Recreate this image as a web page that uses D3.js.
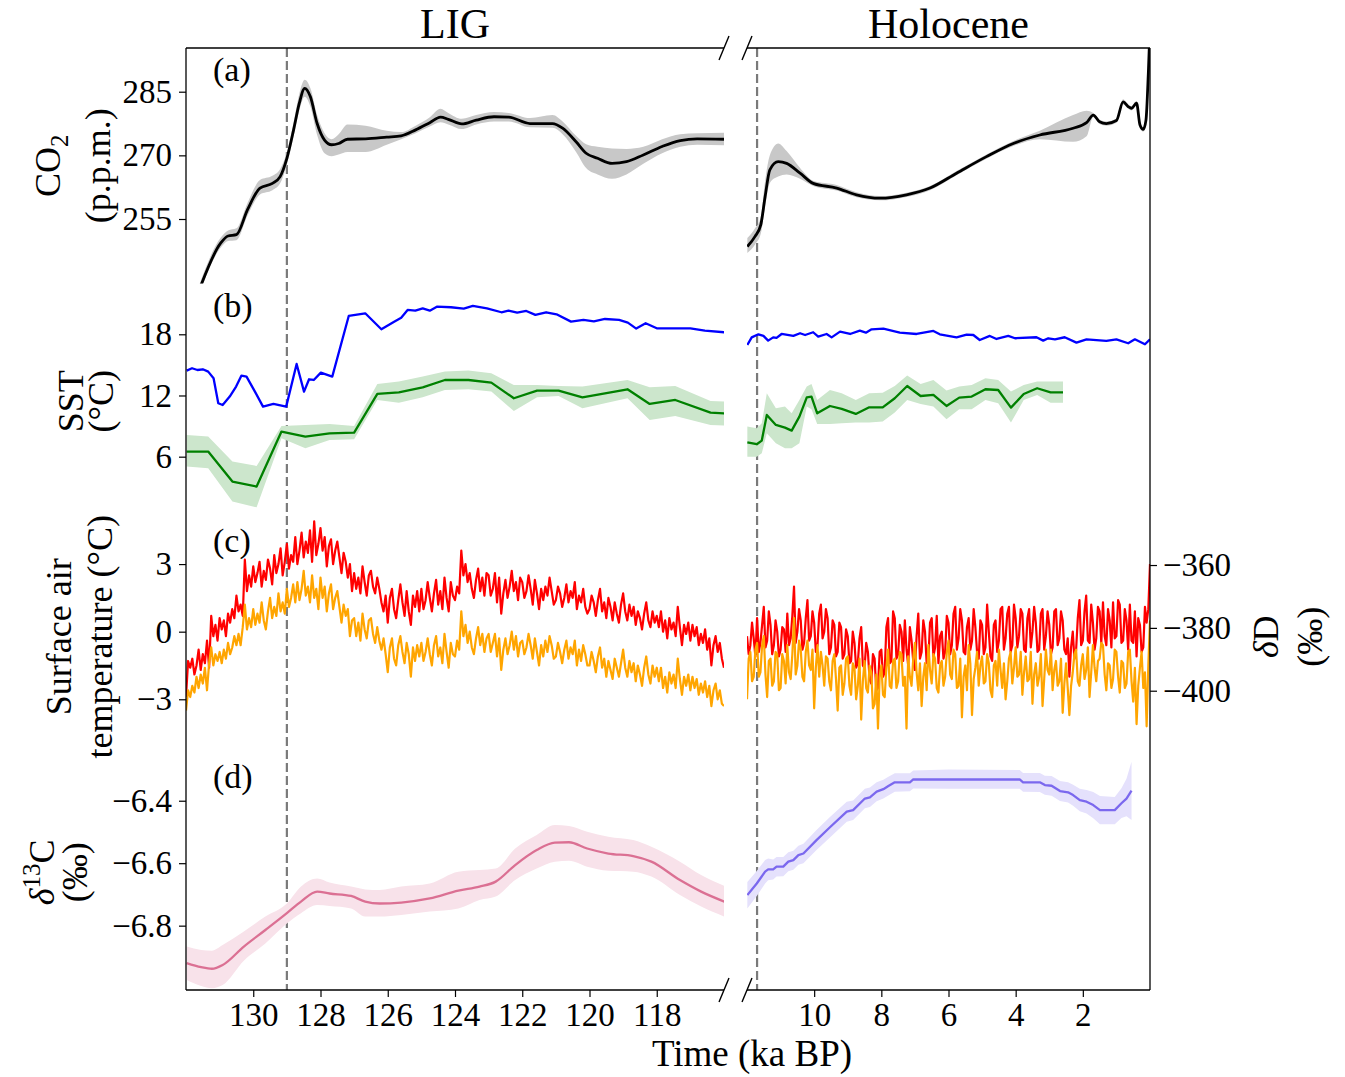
<!DOCTYPE html>
<html>
<head>
<meta charset="utf-8">
<script src="https://cdn.jsdelivr.net/npm/d3@7"></script>
<style>
  body { margin: 0; background: #fff; }
  svg text { font-family: "Liberation Serif", "DejaVu Serif", serif; fill: #000; }
</style>
</head>
<body>
<svg id="chart" width="1345" height="1077"></svg>
<script>
// ---- (a) CO2, ka BP / ppm, lo-hi = grey envelope ----
const co2LigAge = [131.62, 130.97, 130.75, 130.5, 130.17, 129.8, 129.43, 129.2, 129.0, 128.8, 128.63, 128.47, 128.3, 128.1, 127.88, 127.67, 127.46, 127.2, 126.66, 126.03, 125.6, 125.17, 124.75, 124.43, 124.2, 123.8, 123.37, 122.84, 122.4, 121.77, 121.1, 120.8, 120.4, 120.1, 119.76, 119.33, 118.9, 118.4, 117.84, 117.3, 116.8, 116.0];
const co2Lig = [238.0, 249.3, 251.0, 251.3, 257.2, 262.3, 263.4, 265.0, 269.3, 276.0, 282.3, 285.8, 283.8, 277.5, 273.6, 272.5, 272.8, 273.8, 273.9, 274.3, 274.6, 276.0, 277.7, 279.0, 278.5, 277.4, 278.3, 279.1, 279.0, 277.5, 277.5, 276.4, 273.2, 270.5, 269.3, 268.1, 268.5, 270.1, 272.1, 273.5, 273.9, 273.8];
const co2LigLo = [237.0, 248.2, 249.8, 250.0, 255.8, 260.8, 261.8, 263.4, 267.8, 274.5, 280.5, 283.8, 281.5, 274.8, 270.5, 269.8, 270.2, 270.8, 270.8, 272.5, 273.8, 275.2, 276.8, 277.8, 277.3, 276.2, 277.3, 278.0, 278.0, 276.6, 276.5, 275.0, 270.8, 267.0, 265.5, 264.5, 265.5, 268.0, 270.5, 272.0, 272.5, 272.4];
const co2LigHi = [239.2, 250.6, 252.3, 252.8, 258.8, 264.2, 265.2, 266.8, 270.8, 277.8, 284.5, 287.8, 285.8, 279.5, 275.2, 273.8, 275.0, 277.3, 277.0, 275.8, 275.5, 277.0, 279.0, 281.0, 280.0, 278.6, 279.5, 280.2, 280.0, 278.8, 279.5, 278.0, 274.6, 272.6, 272.0, 271.6, 271.5, 272.0, 273.8, 275.0, 275.2, 275.3];

const co2HolAge = [11.99, 11.76, 11.59, 11.46, 11.32, 11.07, 10.82, 10.42, 10.03, 9.33, 8.74, 8.04, 7.25, 6.55, 5.76, 4.87, 4.07, 3.28, 2.29, 1.89, 1.69, 1.5, 1.3, 1.0, 0.8, 0.65, 0.55, 0.4, 0.3, 0.2, 0.12, 0.05, 0.0];
const co2Hol = [248.5, 250.9, 253.6, 260.3, 266.6, 268.5, 268.1, 265.8, 263.4, 262.3, 260.7, 259.9, 260.7, 262.3, 265.8, 269.7, 272.8, 274.8, 276.4, 277.7, 279.5, 277.9, 277.5, 278.2, 282.6, 281.5, 281.1, 282.3, 277.2, 276.1, 278.3, 289.3, 300.0];
const co2HolLo = [247.0, 249.0, 251.5, 258.0, 263.5, 265.0, 265.5, 264.5, 262.8, 261.7, 260.1, 259.4, 260.2, 261.8, 265.3, 269.2, 272.2, 273.8, 273.2, 274.5, 279.0, 277.4, 277.0, 277.7, 282.0, 281.0, 280.6, 281.8, 276.7, 275.6, 277.8, 288.8, 299.5];
const co2HolHi = [250.5, 252.8, 255.5, 264.0, 270.0, 272.8, 271.0, 267.0, 264.0, 263.0, 261.3, 260.4, 261.2, 262.8, 266.3, 270.2, 273.4, 275.8, 279.5, 280.5, 280.0, 278.4, 278.0, 278.7, 283.2, 282.0, 281.6, 282.8, 277.7, 276.6, 278.8, 289.8, 300.5];

// ---- (b) SST, degC ----
const sstBlueLigAge = [131.98, 131.82, 131.66, 131.5, 131.34, 131.18, 131.04, 130.91, 130.7, 130.51, 130.35, 130.2, 129.95, 129.71, 129.4, 129.02, 128.71, 128.49, 128.34, 128.2, 127.99, 127.65, 127.16, 126.67, 126.19, 125.81, 125.6, 125.41, 125.18, 124.96, 124.75, 124.54, 124.12, 123.74, 123.47, 123.05, 122.62, 122.41, 122.15, 121.88, 121.61, 121.29, 120.98, 120.55, 120.18, 119.87, 119.54, 119.12, 118.86, 118.61, 118.33, 118.0, 117.0, 116.57, 115.99];
const sstBlueLig = [14.44, 14.67, 14.5, 14.57, 14.34, 13.69, 11.24, 11.07, 11.89, 12.87, 13.95, 13.85, 12.38, 10.91, 11.17, 10.91, 15.09, 12.38, 13.59, 13.52, 14.24, 13.85, 19.8, 20.06, 18.49, 19.24, 19.63, 20.39, 20.32, 20.55, 20.32, 20.71, 20.65, 20.52, 20.78, 20.55, 20.16, 20.32, 20.12, 20.29, 19.9, 20.16, 19.96, 19.24, 19.41, 19.27, 19.5, 19.41, 19.14, 18.56, 19.08, 18.59, 18.59, 18.36, 18.2];

const sstGreenLigAge = [131.98, 131.34, 130.62, 129.9, 129.16, 128.45, 127.73, 127.0, 126.31, 125.67, 124.96, 124.3, 123.6, 122.92, 122.25, 121.56, 120.92, 120.21, 118.87, 118.21, 117.45, 116.4, 115.99];
const sstGreenLig = [6.5, 6.5, 3.56, 3.07, 8.46, 7.97, 8.29, 8.36, 12.15, 12.31, 12.8, 13.52, 13.52, 13.26, 11.73, 12.48, 12.48, 11.82, 12.61, 11.17, 11.56, 10.32, 10.25];
const sstGreenLigLo = [5.03, 4.86, 1.6, 1.04, 7.8, 6.82, 7.64, 7.71, 11.56, 11.3, 11.82, 12.54, 12.61, 12.38, 10.48, 11.82, 11.95, 10.75, 11.73, 9.6, 9.99, 9.11, 9.05];
const sstGreenLigHi = [8.13, 7.97, 5.52, 5.09, 9.01, 9.11, 9.21, 9.01, 13.13, 13.36, 13.85, 14.34, 14.44, 14.18, 13.03, 13.03, 12.93, 12.87, 13.52, 12.8, 12.93, 11.46, 11.4];

const sstBlueHolAge = [11.99, 11.86, 11.66, 11.51, 11.37, 11.22, 11.12, 10.97, 10.62, 10.42, 10.27, 10.03, 9.88, 9.63, 9.48, 9.23, 8.93, 8.64, 8.46, 8.29, 7.94, 7.45, 6.95, 6.45, 6.26, 5.76, 5.46, 5.26, 5.07, 4.77, 4.57, 4.22, 4.02, 3.38, 3.18, 3.03, 2.83, 2.54, 2.19, 1.89, 1.3, 1.0, 0.65, 0.45, 0.15, 0.0];
const sstBlueHol = [16.95, 17.7, 18.0, 17.84, 17.38, 17.7, 17.64, 18.03, 17.84, 18.1, 17.93, 18.2, 17.77, 18.03, 17.7, 18.26, 18.03, 18.36, 18.16, 18.49, 18.56, 18.16, 18.03, 18.33, 18.0, 17.7, 17.97, 17.93, 17.44, 17.84, 17.54, 17.84, 17.61, 17.71, 17.38, 17.61, 17.51, 17.71, 17.18, 17.51, 17.35, 17.51, 17.12, 17.51, 17.02, 17.51];

const sstGreenHolAge = [11.99, 11.71, 11.56, 11.41, 11.14, 10.87, 10.67, 10.44, 10.22, 10.08, 9.91, 9.53, 9.18, 8.76, 8.36, 7.96, 7.6, 7.23, 6.83, 6.45, 6.06, 5.68, 5.31, 4.9, 4.52, 4.14, 3.76, 3.36, 2.96, 2.59];
const sstGreenHol = [7.41, 7.22, 7.58, 10.09, 9.11, 8.85, 8.56, 9.93, 11.82, 11.89, 10.25, 10.97, 10.68, 10.19, 10.84, 10.84, 11.73, 12.93, 11.95, 12.05, 10.97, 11.79, 11.89, 12.61, 12.54, 10.81, 12.15, 12.71, 12.31, 12.31];
const sstGreenHolLo = [6.0, 6.0, 6.33, 8.29, 7.31, 6.82, 6.82, 7.31, 10.91, 10.65, 9.21, 9.21, 9.27, 9.34, 9.34, 9.44, 10.32, 11.56, 11.17, 10.91, 9.67, 10.65, 10.65, 11.56, 11.24, 9.34, 11.56, 12.05, 11.3, 11.3];
const sstGreenHolHi = [8.95, 8.78, 9.27, 12.22, 10.75, 10.91, 10.25, 11.56, 12.87, 13.13, 11.56, 12.54, 12.22, 11.56, 12.22, 12.28, 12.93, 13.95, 13.13, 13.52, 12.48, 12.87, 13.03, 13.69, 13.52, 12.38, 13.03, 13.36, 13.36, 13.36];

// ---- (c) surface air temperature, degC; one row = 1 ka ----
// LIG: 132 -> 116 ka, every 0.0625 ka
const satLigStart = 132, satLigEnd = 116;
const satLigRed = [
  -2.9, -1.3, -1.6, -1.2, -1.9, -1.5, -0.8, -1.7, -1.0, -1.4, -0.4, -1.6, 0.7, -0.2, 0.3, -0.4,
  0.6, 0.1, 0.5, -0.2, 0.8, 0.4, 1.0, 0.6, 1.6, 0.9, 1.2, 0.7, 3.2, 1.8, 2.5, 2.0,
  2.9, 2.2, 2.6, 3.1, 2.0, 2.7, 2.3, 3.2, 2.8, 2.1, 3.4, 2.6, 3.0, 3.7, 2.5, 3.1,
  3.9, 2.8, 3.4, 3.1, 4.2, 3.0, 3.6, 4.4, 3.3, 4.0, 3.5, 4.5, 3.1, 4.9, 3.4, 3.9,
  4.6, 3.6, 4.2, 2.9, 3.8, 4.1, 3.0, 3.6, 4.0, 3.3, 2.6, 3.5, 3.1, 2.4, 3.0, 1.8,
  2.6, 1.9, 2.4, 1.7, 2.9, 2.2, 1.6, 2.5, 2.7, 2.0, 1.7, 2.4, 1.9, 1.3, 0.9, 1.6,
  0.4, 1.5, 1.9, 1.0, 0.6, 1.4, 2.1, 1.3, 0.7, 1.8, 0.9, 0.3, 1.6, 1.1, 1.8, 0.9,
  1.9, 1.0, 1.4, 2.2, 1.5, 0.9, 1.7, 2.3, 1.2, 1.8, 1.0, 2.4, 1.5, 0.9, 2.2, 1.6,
  1.4, 2.0, 1.7, 3.6, 2.5, 3.0, 2.2, 2.6, 1.9, 1.5, 2.3, 2.8, 1.8, 2.4, 1.6, 2.6,
  2.5, 1.6, 1.9, 2.6, 1.3, 2.4, 0.8, 1.7, 2.3, 1.5, 2.0, 2.7, 1.8, 2.2, 1.4, 2.4,
  2.2, 1.5, 1.8, 2.5, 1.9, 1.2, 2.3, 1.7, 1.0, 1.9, 1.4, 2.0, 1.6, 2.4, 1.8, 1.2,
  1.4, 2.0, 1.7, 1.1, 1.5, 2.1, 1.3, 1.8, 1.5, 2.2, 1.0, 1.6, 1.3, 1.9, 1.1, 0.8,
  1.0, 1.6, 1.3, 0.7, 1.4, 1.9, 0.9, 1.3, 0.6, 1.5, 1.1, 0.5, 1.3, 0.8, 0.4, 1.2,
  1.7, 0.9, 0.5, 1.2, 0.7, 1.1, 0.3, 0.9, 0.6, 0.1, 0.8, 1.3, 0.5, 0.2, 0.9, 0.4,
  0.7, 0.2, 0.9, 0.0, 0.5, -0.3, 0.6, 0.1, 0.4, -0.2, 1.1, 0.2, -0.6, 0.3, -0.1, 0.4,
  -0.4, 0.3, -0.2, 0.2, -0.6, -0.1, -0.5, 0.1, -0.8, -0.3, -1.5, -0.6, -0.2, -0.9, -0.5, -1.2,
  -1.6];
const satLigOrange = [
  -3.5, -2.6, -2.9, -2.4, -2.7, -2.0, -2.5, -1.9, -2.3, -1.6, -2.6, -1.4, -0.7, -1.5, -1.0, -1.3,
  -0.9, -1.4, -0.8, -1.2, -0.5, -1.0, -0.7, -0.2, -0.6, -0.1, -0.6, 0.2, 1.2, 0.1, 0.6, 0.2,
  1.0, 0.3, 0.8, 0.4, 1.3, 0.5, 0.1, 0.9, 1.5, 0.6, 1.1, 0.7, 1.7, 0.9, 1.3, 0.8,
  1.9, 1.1, 1.5, 2.1, 1.3, 2.2, 1.4, 1.9, 2.7, 1.6, 2.0, 1.3, 2.5, 1.5, 1.9, 1.0,
  2.4, 1.5, 2.0, 0.9, 1.7, 2.1, 1.0, 1.5, 1.8, 1.1, 0.4, 1.2, 0.7, 1.0, -0.2, 0.5,
  0.6, -0.2, 0.4, -0.4, 0.8, 0.1, -0.3, 0.5, 0.6, -0.1, -0.5, 0.2, -0.4, -0.8, -0.3, -1.0,
  -1.8, -0.7, -0.3, -1.2, -1.5, -0.6, -0.2, -0.9, -1.4, -0.5, -1.0, -2.0, -0.7, -1.3, -0.6, -1.1,
  -0.5, -1.3, -0.9, -0.3, -1.0, -1.5, -0.6, -0.2, -1.1, -0.7, -1.4, -0.1, -0.9, -1.6, -0.5, -1.0,
  -1.1, -0.4, -0.8, 0.9, -0.2, 0.3, -0.5, 0.0, -0.7, -1.0, -0.3, 0.2, -0.6, -0.1, -0.9, -0.3,
  -0.1, -0.9, -0.5, -0.1, -1.1, -0.3, -1.7, -0.8, -0.3, -1.0, -0.6, 0.0, -0.8, -0.2, -1.1, -0.5,
  -0.4, -1.0, -0.7, -0.1, -0.6, -1.2, -0.3, -0.9, -1.5, -0.6, -1.1, -0.4, -0.9, -0.2, -0.6, -1.2,
  -1.1, -0.5, -0.9, -1.4, -0.8, -0.4, -1.2, -0.7, -1.0, -0.4, -1.5, -0.8, -1.3, -0.6, -1.0, -1.5,
  -1.5, -0.9, -1.3, -1.8, -1.1, -0.7, -1.6, -1.2, -2.0, -1.3, -1.7, -2.1, -1.2, -1.6, -2.0, -1.4,
  -0.8, -1.6, -2.0, -1.3, -1.8, -1.4, -2.2, -1.5, -1.9, -2.4, -1.6, -1.1, -1.9, -2.3, -1.5, -2.0,
  -1.6, -2.2, -1.6, -2.5, -2.0, -2.7, -1.8, -2.3, -1.9, -2.5, -1.2, -2.1, -2.8, -2.0, -2.4, -1.9,
  -2.6, -2.0, -2.5, -2.1, -2.8, -2.3, -2.7, -2.2, -2.9, -2.4, -3.3, -2.6, -2.3, -3.0, -2.6, -3.2,
  -3.3];

// Holocene: 12 -> 0 ka, every 0.05 ka
const satHolStart = 12, satHolEnd = 0;
const satHolRed = [
  -0.2, -1.0, -0.6, 0.4, -0.3, -1.1, 0.6, -0.9, -0.5, 0.3, 1.1, -0.7, -0.4, 0.9, 0.3, -1.0, -0.6, 0.5, 0.0, -1.1,
  -0.8, 0.2, 0.1, -0.9, 0.8, -0.6, -0.3, 0.7, 2.0, -0.5, 0.0, 1.0, 0.5, -0.8, -0.5, 0.6, 1.4, -0.4, -0.2, 0.9,
  0.4, -0.9, -0.6, 0.8, 1.2, -0.3, 0.0, 1.0, 0.6, -1.0, -0.7, 0.5, 0.3, -1.1, -0.9, 0.4, 0.2, -1.2, -1.0, 0.1,
  -0.2, -1.4, -1.3, 0.0, -0.5, -1.6, -1.4, -0.3, 0.2, -1.5, -1.6, -0.5, -0.9, -2.1, -2.3, -1.0, -1.2, -2.6, -2.5, -0.9,
  -0.8, -2.0, -1.8, 0.2, 0.6, -1.4, -1.3, 0.9, 0.6, -1.2, -1.0, 0.3, 0.0, -1.3, 0.5, -0.8, -1.5, 0.2, -0.4, -1.3,
  -1.7, -0.2, 0.8, -1.2, -0.9, 0.5, 0.0, -1.4, -1.2, 0.4, 0.6, -1.1, -0.7, 0.7, -1.4, -0.2, 0.0, -1.2, -0.9, 0.7,
  0.4, -1.0, -0.6, 0.8, 1.1, -0.8, -0.3, 1.0, 0.5, -0.9, -1.0, 0.2, 0.6, -0.8, -0.4, 1.0, 0.2, -0.9, -1.2, 0.5,
  0.3, -1.0, -0.7, 1.2, 0.0, -1.1, -1.3, 0.3, 0.5, -0.9, -0.4, 1.0, 1.1, -0.8, -0.3, 0.8, 1.1, -0.9, -0.6, 1.2,
  0.6, -0.7, -0.2, 1.0, 0.8, -0.8, -0.9, 0.6, 1.0, -0.7, 0.0, 1.1, 0.4, -0.9, -0.8, 0.8, 1.0, -0.8, -0.2, 0.9,
  0.3, -1.0, -0.7, 0.9, 1.0, -0.6, -0.3, 0.9, 0.5, -0.8, -1.0, -0.3, -2.0, -0.7, 0.0, -1.2, -0.8, 0.6, 1.4, -0.6,
  -0.4, 0.9, 1.6, -0.4, -0.5, 1.2, 0.4, -0.8, -0.3, 1.1, 0.9, -0.5, 1.3, -0.2, -0.6, 1.0, 0.5, -0.7, 1.3, -0.3,
  -0.2, 1.4, 1.2, -0.5, -0.4, 1.0, 0.5, -0.8, 1.2, -0.4, -0.5, 0.9, -1.1, 0.6, 0.3, -0.9, -0.7, 1.1, 0.4, 1.0,
  3.0];
const satHolOrange = [
  -3.0, -1.2, -0.9, -2.2, -2.0, -0.8, -0.5, -2.0, -1.8, -0.6, -0.2, -1.9, -2.9, -1.3, -1.2, -2.4, -2.2, -0.9, -1.0, -2.6,
  -2.5, -1.0, -1.3, -2.3, -0.6, -1.8, -2.1, -1.0, 0.6, -1.9, -1.5, -0.4, -0.8, -2.0, -2.2, -0.9, -0.4, -1.5, -1.7, -0.8,
  -3.4, -1.6, -0.6, -2.0, -0.9, -1.5, -2.4, -1.1, -1.2, -2.2, -2.6, -1.3, -1.0, -2.1, -3.5, -1.6, -1.5, -2.8, -2.3, -1.2,
  -1.1, -2.4, -2.8, -1.4, -1.6, -3.0, -2.4, -1.2, -3.9, -2.2, -1.3, -2.5, -2.7, -1.5, -1.8, -3.4, -3.2, -1.9, -4.3, -2.0,
  -1.5, -2.8, -2.9, -1.6, -0.8, -2.4, -2.5, -1.3, -1.2, -2.5, -2.2, -0.9, -1.0, -2.4, -2.0, -4.3, -1.1, -2.0, -2.4, -1.2,
  -0.5, -1.8, -2.6, -1.4, -3.3, -2.0, -1.4, -2.6, -0.6, -1.7, -2.3, -1.0, -1.2, -2.5, -2.7, -1.5, -1.3, -2.4, -2.0, -0.9,
  -0.4, -1.9, -2.1, -0.8, -1.0, -2.5, -2.4, -1.2, -3.8, -2.0, -1.5, -2.6, -0.6, -1.4, -3.7, -2.1, -1.6, -0.9, -2.4, -1.5,
  -1.1, -2.3, -2.2, -1.0, -1.4, -2.6, -2.9, -1.5, -1.3, -2.4, -0.8, -1.7, -2.5, -1.4, -3.0, -2.2, -1.2, -0.9, -2.3, -1.6,
  -0.7, -2.0, -1.9, -0.9, -2.8, -1.8, -1.1, -2.2, -2.1, -0.9, -3.2, -1.9, -1.4, -2.4, -2.0, -1.0, -3.3, -2.1, -0.8, -1.7,
  -1.9, -0.8, -2.6, -1.7, -1.3, -2.4, -2.2, -1.2, -3.6, -2.3, -1.4, -2.5, -3.7, -2.4, -1.8, -1.0, -0.8, -2.2, -2.4, -1.5,
  -1.0, -2.1, -1.7, -0.7, -2.9, -1.8, -0.6, -1.6, -2.2, -1.3, -1.2, -0.5, -0.6, -1.9, -2.6, -1.4, -1.5, -2.5, -2.1, -0.8,
  -0.9, -2.0, -2.7, -1.3, -1.4, -2.5, -2.3, -0.9, -0.8, -2.2, -3.1, -1.6, -4.1, -2.4, -1.6, -0.9, -2.5, -1.8, -4.2, -1.5,
  0.5];

// ---- (d) d13C, permil ----
const c13LigAge = [131.98, 131.55, 131.23, 130.91, 130.28, 129.64, 129.0, 128.58, 128.1, 127.73, 127.09, 126.67, 126.24, 125.6, 124.75, 123.9, 123.27, 122.79, 122.21, 121.57, 121.03, 120.61, 120.07, 119.44, 118.7, 118.16, 117.31, 116.68, 115.99];
const c13Lig = [-6.92, -6.933, -6.938, -6.926, -6.867, -6.814, -6.76, -6.723, -6.691, -6.697, -6.705, -6.723, -6.729, -6.726, -6.713, -6.688, -6.675, -6.659, -6.606, -6.558, -6.534, -6.533, -6.553, -6.569, -6.577, -6.595, -6.654, -6.691, -6.723];
const c13LigLo = [-6.974, -6.993, -7.0, -6.99, -6.912, -6.857, -6.793, -6.76, -6.734, -6.737, -6.745, -6.771, -6.771, -6.766, -6.755, -6.745, -6.718, -6.707, -6.654, -6.617, -6.595, -6.592, -6.611, -6.624, -6.627, -6.643, -6.702, -6.739, -6.771];
const c13LigHi = [-6.867, -6.878, -6.88, -6.862, -6.819, -6.771, -6.729, -6.675, -6.649, -6.662, -6.675, -6.684, -6.686, -6.675, -6.665, -6.627, -6.622, -6.617, -6.553, -6.51, -6.478, -6.481, -6.499, -6.515, -6.526, -6.547, -6.595, -6.638, -6.673];

const c13HolAge = [11.99, 11.71, 11.46, 11.37, 11.22, 11.12, 10.92, 10.77, 10.62, 10.47, 10.32, 9.93, 9.53, 9.03, 8.84, 8.49, 8.34, 8.14, 7.94, 7.79, 7.6, 7.15, 7.05, 6.0, 3.88, 3.78, 3.28, 3.13, 2.93, 2.68, 2.44, 2.29, 2.09, 1.89, 1.69, 1.49, 1.05, 0.85, 0.7, 0.55];
const c13Hol = [-6.702, -6.665, -6.627, -6.62, -6.62, -6.611, -6.611, -6.595, -6.59, -6.574, -6.569, -6.526, -6.485, -6.435, -6.43, -6.393, -6.389, -6.371, -6.363, -6.353, -6.341, -6.341, -6.332, -6.332, -6.332, -6.341, -6.341, -6.35, -6.352, -6.369, -6.373, -6.382, -6.398, -6.403, -6.414, -6.43, -6.43, -6.408, -6.393, -6.368];
const c13HolLo = [-6.745, -6.705, -6.665, -6.655, -6.652, -6.643, -6.642, -6.626, -6.621, -6.605, -6.6, -6.558, -6.518, -6.467, -6.462, -6.424, -6.42, -6.402, -6.393, -6.383, -6.371, -6.37, -6.361, -6.362, -6.362, -6.371, -6.372, -6.381, -6.384, -6.401, -6.406, -6.416, -6.434, -6.441, -6.456, -6.475, -6.475, -6.455, -6.45, -6.462];
const c13HolHi = [-6.66, -6.625, -6.59, -6.585, -6.588, -6.58, -6.58, -6.565, -6.56, -6.544, -6.538, -6.494, -6.452, -6.403, -6.399, -6.362, -6.358, -6.341, -6.333, -6.323, -6.312, -6.312, -6.303, -6.3, -6.302, -6.311, -6.311, -6.32, -6.321, -6.337, -6.341, -6.349, -6.362, -6.366, -6.372, -6.385, -6.388, -6.36, -6.33, -6.275];

// ---- axes ----
const ligTicks = [130, 128, 126, 124, 122, 120, 118];
const holTicks = [10, 8, 6, 4, 2];
const co2Ticks = [285, 270, 255];
const sstTicks = [18, 12, 6];
const satTicks = [3, 0, -3];
const dDTicks = [-360, -380, -400];
const c13Ticks = [-6.4, -6.6, -6.8];
const ligOnset = 129.0, holOnset = 11.7;

// ---- layout ----
const svg = d3.select('#chart');
const leftRange = [186, 724], rightRange = [747, 1150];
const rowTop = [48, 283.5, 519, 754.5];
const rowBottom = [283.5, 519, 754.5, 990];

const xLig = d3.scaleLinear().domain([132, 116]).range(leftRange);
const xHol = d3.scaleLinear().domain([12, 0]).range(rightRange);
const yCo2 = d3.scaleLinear().domain([239.8, 295.3]).range([rowBottom[0], rowTop[0]]);
const ySst = d3.scaleLinear().domain([-0.11, 22.98]).range([rowBottom[1], rowTop[1]]);
const ySat = d3.scaleLinear().domain([-5.45, 5.0]).range([rowBottom[2], rowTop[2]]);
const yDD = d3.scaleLinear().domain([-420.3, -345.35]).range([rowBottom[2], rowTop[2]]);
const yC13 = d3.scaleLinear().domain([-7.006, -6.252]).range([rowBottom[3], rowTop[3]]);

const defs = svg.append('defs');
function panel(id, xs, row) {
    const [x0, x1] = xs.range();
    defs.append('clipPath').attr('id', id)
        .append('rect').attr('x', x0).attr('y', rowTop[row])
        .attr('width', x1 - x0).attr('height', rowBottom[row] - rowTop[row]);
    return svg.append('g').attr('clip-path', `url(#${id})`);
}

function drawBand(g, xs, ys, ages, lo, hi, fill, curve) {
    const area = d3.area().curve(curve)
        .x(i => xs(ages[i])).y0(i => ys(lo[i])).y1(i => ys(hi[i]));
    g.append('path').attr('d', area(d3.range(ages.length))).attr('fill', fill);
}
function drawLine(g, xs, ys, ages, vals, color, width, curve) {
    const line = d3.line().curve(curve)
        .x(i => xs(ages[i])).y(i => ys(vals[i]));
    g.append('path').attr('d', line(d3.range(ages.length)))
        .attr('fill', 'none').attr('stroke', color).attr('stroke-width', width)
        .attr('stroke-linejoin', 'round');
}
// evenly sampled record: age of each sample between start and end
const sampleAges = (vals, start, end) =>
    vals.map((_, i) => start + (end - start) * i / (vals.length - 1));

const smooth = d3.curveMonotoneX, straight = d3.curveLinear;

// onset lines (under data)
[[xLig, ligOnset], [xHol, holOnset]].forEach(([xs, t]) => {
    svg.append('line').attr('x1', xs(t)).attr('x2', xs(t))
        .attr('y1', rowTop[0]).attr('y2', rowBottom[3])
        .attr('stroke', '#7a7a7a').attr('stroke-width', 2.2).attr('stroke-dasharray', '9,4');
});

// (a)
let g = panel('a-lig', xLig, 0);
drawBand(g, xLig, yCo2, co2LigAge, co2LigLo, co2LigHi, '#c8c8c8', smooth);
drawLine(g, xLig, yCo2, co2LigAge, co2Lig, '#000', 2.8, smooth);
g = panel('a-hol', xHol, 0);
drawBand(g, xHol, yCo2, co2HolAge, co2HolLo, co2HolHi, '#c8c8c8', smooth);
drawLine(g, xHol, yCo2, co2HolAge, co2Hol, '#000', 2.8, smooth);

// (b)
g = panel('b-lig', xLig, 1);
drawBand(g, xLig, ySst, sstGreenLigAge, sstGreenLigLo, sstGreenLigHi, '#cce6cc', straight);
drawLine(g, xLig, ySst, sstGreenLigAge, sstGreenLig, '#008000', 2.3, straight);
drawLine(g, xLig, ySst, sstBlueLigAge, sstBlueLig, '#0000ff', 2.3, straight);
g = panel('b-hol', xHol, 1);
drawBand(g, xHol, ySst, sstGreenHolAge, sstGreenHolLo, sstGreenHolHi, '#cce6cc', straight);
drawLine(g, xHol, ySst, sstGreenHolAge, sstGreenHol, '#008000', 2.3, straight);
drawLine(g, xHol, ySst, sstBlueHolAge, sstBlueHol, '#0000ff', 2.3, straight);

// (c)
g = panel('c-lig', xLig, 2);
drawLine(g, xLig, ySat, sampleAges(satLigRed, satLigStart, satLigEnd), satLigRed, '#ff0000', 2.2, straight);
drawLine(g, xLig, ySat, sampleAges(satLigOrange, satLigStart, satLigEnd), satLigOrange, '#ffa500', 2.2, straight);
g = panel('c-hol', xHol, 2);
drawLine(g, xHol, ySat, sampleAges(satHolRed, satHolStart, satHolEnd), satHolRed, '#ff0000', 2.2, straight);
drawLine(g, xHol, ySat, sampleAges(satHolOrange, satHolStart, satHolEnd), satHolOrange, '#ffa500', 2.2, straight);

// (d)
g = panel('d-lig', xLig, 3);
drawBand(g, xLig, yC13, c13LigAge, c13LigLo, c13LigHi, '#f8e2ea', smooth);
drawLine(g, xLig, yC13, c13LigAge, c13Lig, '#db7093', 2.3, smooth);
g = panel('d-hol', xHol, 3);
drawBand(g, xHol, yC13, c13HolAge, c13HolLo, c13HolHi, '#e5e1fc', straight);
drawLine(g, xHol, yC13, c13HolAge, c13Hol, '#7b68ee', 2.3, straight);

// ---- axes & spines ----
const tickFont = 33;
function styleAxis(sel) {
    sel.select('.domain').remove();
    sel.selectAll('.tick line').attr('stroke', '#000').attr('stroke-width', 1.2);
    sel.selectAll('.tick text').attr('font-size', tickFont)
        .attr('font-family', '"Liberation Serif", "DejaVu Serif", serif');
}
const fmtMinus = d => (d < 0 ? '\u2212' + Math.abs(d) : String(d));
[[yCo2, co2Ticks], [ySst, sstTicks], [ySat, satTicks], [yC13, c13Ticks]].forEach(([ys, tv]) => {
    svg.append('g').attr('transform', `translate(${leftRange[0]},0)`)
        .call(d3.axisLeft(ys).tickValues(tv).tickSize(7).tickPadding(7).tickFormat(fmtMinus))
        .call(styleAxis);
});
svg.append('g').attr('transform', `translate(${rightRange[1]},0)`)
    .call(d3.axisRight(yDD).tickValues(dDTicks).tickSize(7).tickPadding(6).tickFormat(fmtMinus))
    .call(styleAxis);
svg.append('g').attr('transform', `translate(0,${rowBottom[3]})`)
    .call(d3.axisBottom(xLig).tickValues(ligTicks).tickSize(7).tickPadding(6))
    .call(styleAxis);
svg.append('g').attr('transform', `translate(0,${rowBottom[3]})`)
    .call(d3.axisBottom(xHol).tickValues(holTicks).tickSize(7).tickPadding(6))
    .call(styleAxis);

const spines = [
    [leftRange[0], rowTop[0], leftRange[0], rowBottom[3]],
    [rightRange[1], rowTop[0], rightRange[1], rowBottom[3]],
    [leftRange[0], rowTop[0], leftRange[1], rowTop[0]],
    [rightRange[0], rowTop[0], rightRange[1], rowTop[0]],
    [leftRange[0], rowBottom[3], leftRange[1], rowBottom[3]],
    [rightRange[0], rowBottom[3], rightRange[1], rowBottom[3]]
];
svg.append('g').selectAll('line').data(spines).join('line')
    .attr('x1', d => d[0]).attr('y1', d => d[1]).attr('x2', d => d[2]).attr('y2', d => d[3])
    .attr('stroke', '#000').attr('stroke-width', 1.3);

// axis break marks
[leftRange[1], rightRange[0]].forEach(x => {
    [rowTop[0], rowBottom[3]].forEach(y => {
        svg.append('line').attr('x1', x - 5).attr('y1', y + 12).attr('x2', x + 5).attr('y2', y - 12)
            .attr('stroke', '#000').attr('stroke-width', 1.4);
    });
});

// ---- text ----
const txt = (x, y, s, size, anchor = 'middle') =>
    svg.append('text').attr('x', x).attr('y', y).attr('font-size', size)
        .attr('text-anchor', anchor).text(s);

txt((leftRange[0] + leftRange[1]) / 2, 38, 'LIG', 42);
txt((rightRange[0] + rightRange[1]) / 2, 38, 'Holocene', 42);
['(a)', '(b)', '(c)', '(d)'].forEach((s, i) => txt(213, rowTop[i] + 33, s, 34, 'start'));
txt(752, 1066, 'Time (ka BP)', 37);

function yLabel(x, y, parts, size) {
    const t = svg.append('text').attr('transform', `translate(${x},${y}) rotate(-90)`)
        .attr('text-anchor', 'middle').attr('font-size', size);
    parts.forEach(p => {
        const ts = t.append('tspan').text(p.s);
        if (p.size) ts.attr('font-size', p.size);
        if (p.dy) ts.attr('dy', p.dy);
        if (p.italic) ts.attr('font-style', 'italic');
    });
    return t;
}
const mid = i => (rowTop[i] + rowBottom[i]) / 2;
const lab = 36;
yLabel(60, mid(0), [{ s: 'CO' }, { s: '2', size: 25, dy: 8 }], lab);
yLabel(110, mid(0), [{ s: '(p.p.m.)' }], lab);
yLabel(83, mid(1), [{ s: 'SST' }], lab);
yLabel(113, mid(1), [{ s: '(°C)' }], lab);
yLabel(71, mid(2), [{ s: 'Surface air' }], lab);
yLabel(112, mid(2), [{ s: 'temperature (°C)' }], lab);
yLabel(54, mid(3), [{ s: 'δ', italic: true }, { s: '13', size: 25, dy: -14 }, { s: 'C', dy: 14 }], lab);
yLabel(87, mid(3), [{ s: '(‰)' }], lab);
yLabel(1278, mid(2), [{ s: 'δ', italic: true }, { s: 'D' }], lab);
yLabel(1322, mid(2), [{ s: '(‰)' }], lab);
</script>
</body>
</html>
